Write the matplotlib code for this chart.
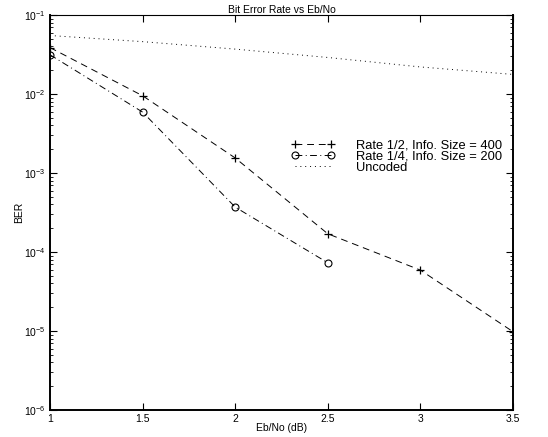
import matplotlib
matplotlib.use("Agg")
import matplotlib.pyplot as plt
from matplotlib.ticker import LogLocator, NullFormatter, FixedLocator, FixedFormatter

plt.rcParams['font.family'] = ['Liberation Sans', 'DejaVu Sans']
plt.rcParams['mathtext.fontset'] = 'custom'
plt.rcParams['mathtext.rm'] = 'Liberation Sans'

# Simulated BER curves
ebno_r12 = [1.0, 1.5, 2.0, 2.5, 3.0, 3.5]
ber_r12 = [0.0387, 0.0095, 0.00155, 1.7e-4, 5.9e-5, 9.8e-6]

ebno_r14 = [1.0, 1.5, 2.0, 2.5]
ber_r14 = [0.0314, 0.0059, 3.7e-4, 7.3e-5]

ebno_unc = [1.0, 1.5, 2.0, 2.5, 3.0, 3.5]
ber_unc = [0.055, 0.046, 0.037, 0.029, 0.022, 0.0177]

x_ticks = [1, 1.5, 2, 2.5, 3, 3.5]
x_tick_labels = ["1", "1.5", "2", "2.5", "3", "3.5"]

W, H = 548, 437
fig = plt.figure(figsize=(W / 100, H / 100), dpi=100)
ax = fig.add_axes([50 / W, 27 / H, 463 / W, 395 / H])

ax.semilogy(ebno_r12, ber_r12, color='black', linestyle='--', linewidth=0.7,
            marker='+', markersize=6, markeredgewidth=0.9,
            dashes=(7, 5), label='Rate 1/2, Info. Size = 400')
ax.semilogy(ebno_r14, ber_r14, color='black', linestyle='-.', linewidth=0.7,
            marker='o', markersize=5, markerfacecolor='none', markeredgewidth=0.8,
            dashes=(7, 3.5, 1, 3.5), label='Rate 1/4, Info. Size = 200')
ax.semilogy(ebno_unc, ber_unc, color='black', linestyle=':', linewidth=0.7,
            dashes=(1, 4), label='Uncoded')

ax.set_xlim(1, 3.5)
ax.set_ylim(1e-6, 1e-1)
ax.xaxis.set_major_locator(FixedLocator(x_ticks))
ax.xaxis.set_major_formatter(FixedFormatter(x_tick_labels))
ax.yaxis.set_major_locator(LogLocator(base=10, numticks=10))
ax.yaxis.set_minor_locator(LogLocator(base=10, subs=range(2, 10), numticks=20))
ax.yaxis.set_minor_formatter(NullFormatter())

ax.tick_params(which='both', direction='in', top=True, right=True, labelsize=7.5)
ax.tick_params(which='major', length=5, width=0.8, pad=3)
ax.tick_params(which='minor', length=2.5, width=0.6)
for name, s in ax.spines.items():
    s.set_linewidth(0.8 if name == 'top' else 1.4)

ax.set_title('Bit Error Rate vs Eb/No', fontsize=7.5, pad=1.5)
ax.set_xlabel('Eb/No (dB)', fontsize=7.5, labelpad=-0.5)
ax.set_ylabel('BER', fontsize=7.5, labelpad=0)

ax.legend(loc='upper left', bbox_to_anchor=(291 / W, 1 - 139 / H),
          bbox_transform=fig.transFigure, frameon=False,
          numpoints=2, handlelength=3.4, fontsize=9.3, labelspacing=-0.05,
          handletextpad=1.6, borderaxespad=0, borderpad=0)

fig.savefig('out.png', dpi=100)
